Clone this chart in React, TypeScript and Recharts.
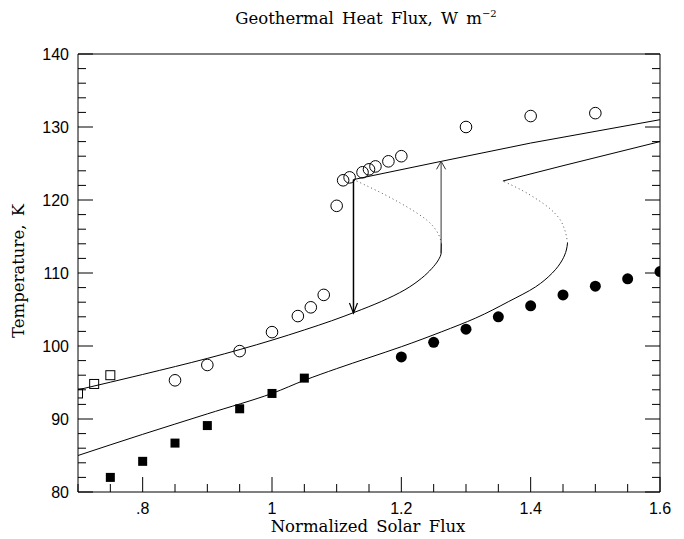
import React from 'react'
import { ComposedChart, Line, Scatter, XAxis, YAxis } from 'recharts'

// observations
const openSquares = [
  { x: 0.7, y: 93.5 }, { x: 0.725, y: 94.8 }, { x: 0.75, y: 96.0 },
]
const filledSquares = [
  { x: 0.75, y: 82.0 }, { x: 0.8, y: 84.2 }, { x: 0.85, y: 86.7 }, { x: 0.9, y: 89.1 },
  { x: 0.95, y: 91.4 }, { x: 1.0, y: 93.5 }, { x: 1.05, y: 95.6 },
]
const openCircles = [
  { x: 0.85, y: 95.3 }, { x: 0.9, y: 97.4 }, { x: 0.95, y: 99.3 }, { x: 1.0, y: 101.9 },
  { x: 1.04, y: 104.1 }, { x: 1.06, y: 105.3 }, { x: 1.08, y: 107.0 }, { x: 1.1, y: 119.2 },
  { x: 1.11, y: 122.7 }, { x: 1.12, y: 123.1 }, { x: 1.14, y: 123.8 }, { x: 1.15, y: 124.2 },
  { x: 1.16, y: 124.6 }, { x: 1.18, y: 125.3 }, { x: 1.2, y: 126.0 }, { x: 1.3, y: 130.0 },
  { x: 1.4, y: 131.5 }, { x: 1.5, y: 131.9 },
]
const filledCircles = [
  { x: 1.2, y: 98.5 }, { x: 1.25, y: 100.5 }, { x: 1.3, y: 102.3 }, { x: 1.35, y: 104.0 },
  { x: 1.4, y: 105.5 }, { x: 1.45, y: 107.0 }, { x: 1.5, y: 108.2 }, { x: 1.55, y: 109.2 },
  { x: 1.6, y: 110.2 },
]

// model curves (lower = stable cold branch, middle = unstable, upper = warm branch)
const lowerA = [
  { x: 0.7, y: 94.0 }, { x: 0.8, y: 96.1 }, { x: 0.9, y: 98.3 }, { x: 1.0, y: 100.8 },
  { x: 1.05, y: 102.2 }, { x: 1.092, y: 103.45 }, { x: 1.127, y: 104.6 }, { x: 1.169, y: 106.1 },
  { x: 1.2055, y: 107.7 }, { x: 1.2315, y: 109.3 }, { x: 1.247, y: 110.6 }, { x: 1.2574, y: 111.8 },
  { x: 1.2615, y: 112.7 }, { x: 1.262, y: 114.0 },
]
const middleA = [
  { x: 1.262, y: 114.0 }, { x: 1.258, y: 115.2 }, { x: 1.25, y: 116.3 }, { x: 1.24, y: 117.2 },
  { x: 1.226, y: 118.1 }, { x: 1.2, y: 119.5 }, { x: 1.175, y: 120.7 }, { x: 1.15, y: 121.8 },
  { x: 1.126, y: 122.8 },
]
const upperA = [
  { x: 1.126, y: 122.8 }, { x: 1.262, y: 125.3 }, { x: 1.4, y: 127.8 }, { x: 1.6, y: 131.0 },
]
const lowerB = [
  { x: 0.7, y: 85.0 }, { x: 0.8, y: 87.9 }, { x: 0.9, y: 90.7 }, { x: 1.0, y: 93.5 },
  { x: 1.05, y: 95.3 }, { x: 1.1, y: 96.9 }, { x: 1.15, y: 98.4 }, { x: 1.2, y: 99.9 },
  { x: 1.2626, y: 101.96 }, { x: 1.3143, y: 103.8 }, { x: 1.3662, y: 106.1 }, { x: 1.4076, y: 108.1 },
  { x: 1.4335, y: 110.0 }, { x: 1.449, y: 111.8 }, { x: 1.4552, y: 113.15 }, { x: 1.457, y: 114.1 },
]
const middleB = [
  { x: 1.457, y: 114.1 }, { x: 1.453, y: 115.8 }, { x: 1.444, y: 117.5 }, { x: 1.43, y: 118.8 },
  { x: 1.408, y: 120.2 }, { x: 1.385, y: 121.4 }, { x: 1.357, y: 122.6 },
]
const upperB = [
  { x: 1.357, y: 122.6 }, { x: 1.45, y: 124.7 }, { x: 1.6, y: 128.0 },
]

// jumps
const jumpDown = [{ x: 1.126, y: 122.8 }, { x: 1.126, y: 104.5 }]
const jumpDownHead = [{ x: 1.1198, y: 105.9 }, { x: 1.126, y: 104.5 }, { x: 1.1322, y: 105.9 }]
const jumpUp = [{ x: 1.2615, y: 112.7 }, { x: 1.2615, y: 125.3 }]
const jumpUpHead = [{ x: 1.2545, y: 124.2 }, { x: 1.2615, y: 125.3 }, { x: 1.2685, y: 124.2 }]

const bottomTicks = [0.7, 0.75, 0.8, 0.85, 0.9, 0.95, 1.0, 1.05, 1.1, 1.15, 1.2, 1.25, 1.3, 1.35, 1.4, 1.45, 1.5, 1.55, 1.6]
const topTicks = [0, 0.05, 0.1, 0.15, 0.2, 0.25, 0.3, 0.35, 0.4, 0.45, 0.5, 0.55, 0.6, 0.65, 0.7, 0.75, 0.8, 0.85]
const yTicks = [80, 82, 84, 86, 88, 90, 92, 94, 96, 98, 100, 102, 104, 106, 108, 110, 112, 114, 116, 118, 120, 122, 124, 126, 128, 130, 132, 134, 136, 138, 140]

const SANS = 'Liberation Sans, Arial, sans-serif'
const SERIF = 'DejaVu Serif, serif'

const isMajorX = (v: number) => Math.abs(v / 0.2 - Math.round(v / 0.2)) < 1e-6
const isMajorY = (v: number) => Math.abs(v % 10) < 1e-6
const fmt = (v: number) => {
  const s = String(+v.toFixed(2))
  return s.startsWith('0.') ? s.slice(1) : s
}

const BottomTick = (p: any) => {
  const v = p.payload.value
  const major = isMajorX(v)
  return (
    <g>
      <line x1={p.x} x2={p.x} y1={p.y} y2={p.y - (major ? 15 : 8)} stroke="#000" />
      {major && (
        <text x={p.x} y={p.y + 22} textAnchor="middle" fontFamily={SANS} fontSize={16} fill="#000">
          {fmt(v)}
        </text>
      )}
    </g>
  )
}

const TopTick = (p: any) => {
  const v = p.payload.value
  const major = isMajorX(v)
  return (
    <g>
      <line x1={p.x} x2={p.x} y1={p.y} y2={p.y + (major ? 15 : 8)} stroke="#000" />
      {major && (
        <text x={p.x} y={p.y - 3} textAnchor="middle" fontFamily={SANS} fontSize={16} fill="#000">
          {fmt(v)}
        </text>
      )}
    </g>
  )
}

const LeftTick = (p: any) => {
  const v = p.payload.value
  const major = isMajorY(v)
  return (
    <g>
      <line x1={p.x} x2={p.x + (major ? 15 : 8)} y1={p.y} y2={p.y} stroke="#000" />
      {major && (
        <text x={p.x - 9} y={p.y + 6} textAnchor="end" fontFamily={SANS} fontSize={16} fill="#000">
          {v}
        </text>
      )}
    </g>
  )
}

const RightTick = (p: any) => {
  const major = isMajorY(p.payload.value)
  return <line x1={p.x} x2={p.x - (major ? 15 : 8)} y1={p.y} y2={p.y} stroke="#000" />
}

const OpenCircle = (p: any) => <circle cx={p.cx} cy={p.cy} r={5.8} fill="none" stroke="#000" strokeWidth={1} />
const FilledCircle = (p: any) => <circle cx={p.cx} cy={p.cy} r={5.5} fill="#000" />
const FilledSquare = (p: any) => <rect x={p.cx - 4.5} y={p.cy - 4.5} width={9} height={9} fill="#000" />
const OpenSquare = (p: any) => (
  <rect x={p.cx - 4.5} y={p.cy - 4.5} width={9} height={9} fill="none" stroke="#000" strokeWidth={1} />
)

const curve = (data: any[], type: any, extra: any = {}) => (
  <Line
    data={data}
    dataKey="y"
    xAxisId="b"
    yAxisId="l"
    type={type}
    stroke="#000"
    strokeWidth={1}
    dot={false}
    activeDot={false}
    isAnimationActive={false}
    {...extra}
  />
)

export default function App() {
  return (
    <div style={{ position: 'absolute', left: 0, top: 0, width: 684, height: 539, background: '#fff' }}>
      <ComposedChart width={684} height={539} margin={{ top: 0, right: 0, bottom: 0, left: 0 }}>
        <XAxis
          xAxisId="b"
          dataKey="x"
          type="number"
          domain={[0.7, 1.6]}
          ticks={bottomTicks}
          interval={0}
          allowDataOverflow
          height={47}
          axisLine={{ stroke: '#000' }}
          tickLine={false}
          tickSize={0}
          tickMargin={0}
          tick={BottomTick}
        />
        <XAxis
          xAxisId="t"
          orientation="top"
          type="number"
          domain={[0, 0.9]}
          ticks={topTicks}
          interval={0}
          allowDataOverflow
          height={54}
          axisLine={{ stroke: '#000' }}
          tickLine={false}
          tickSize={0}
          tickMargin={0}
          tick={TopTick}
        />
        <YAxis
          yAxisId="l"
          dataKey="y"
          type="number"
          domain={[80, 140]}
          ticks={yTicks}
          interval={0}
          allowDataOverflow
          width={78}
          axisLine={{ stroke: '#000' }}
          tickLine={false}
          tickSize={0}
          tickMargin={0}
          tick={LeftTick}
        />
        <YAxis
          yAxisId="r"
          orientation="right"
          type="number"
          domain={[80, 140]}
          ticks={yTicks}
          interval={0}
          allowDataOverflow
          width={24}
          axisLine={{ stroke: '#000' }}
          tickLine={false}
          tickSize={0}
          tickMargin={0}
          tick={RightTick}
        />

        {curve(lowerA, 'monotoneY')}
        {curve(middleA, 'monotoneY', { stroke: '#555', strokeDasharray: '1 3' })}
        {curve(upperA, 'linear')}
        {curve(lowerB, 'monotoneY')}
        {curve(middleB, 'monotoneY', { stroke: '#555', strokeDasharray: '1 3' })}
        {curve(upperB, 'linear')}
        {curve(jumpDown, 'linear', { strokeWidth: 1.5 })}
        {curve(jumpDownHead, 'linear', { strokeWidth: 1.2 })}
        {curve(jumpUp, 'linear', { stroke: '#333' })}
        {curve(jumpUpHead, 'linear', { stroke: '#333' })}

        <Scatter data={openSquares} xAxisId="b" yAxisId="l" shape={OpenSquare} isAnimationActive={false} />
        <Scatter data={filledSquares} xAxisId="b" yAxisId="l" shape={FilledSquare} isAnimationActive={false} />
        <Scatter data={openCircles} xAxisId="b" yAxisId="l" shape={OpenCircle} isAnimationActive={false} />
        <Scatter data={filledCircles} xAxisId="b" yAxisId="l" shape={FilledCircle} isAnimationActive={false} />

        <text x={366} y={24} textAnchor="middle" fontFamily={SERIF} fontSize={16.5} fill="#000" wordSpacing={3}>
          Geothermal Heat Flux, W m
          <tspan dy={-7} fontSize={10}>−2</tspan>
        </text>
        <text x={368} y={532} textAnchor="middle" fontFamily={SERIF} fontSize={16.5} fill="#000" wordSpacing={3}>
          Normalized Solar Flux
        </text>
        <text
          x={24}
          y={271}
          transform="rotate(-90 24 271)"
          textAnchor="middle"
          fontFamily={SERIF}
          fontSize={16.5}
          fill="#000"
          wordSpacing={3}
        >
          Temperature, K
        </text>
      </ComposedChart>
    </div>
  )
}
